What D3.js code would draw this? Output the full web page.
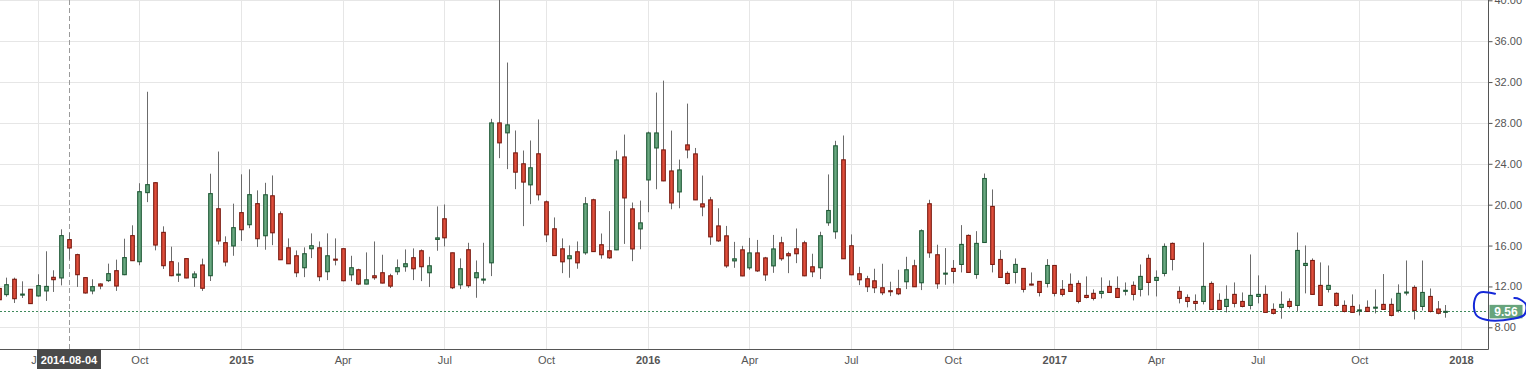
<!DOCTYPE html>
<html>
<head>
<meta charset="utf-8">
<script src="https://cdn.jsdelivr.net/npm/d3@7"></script>
<style>
  html, body { margin: 0; padding: 0; background: #ffffff; }
  svg { display: block; font-family: "Liberation Sans", Arial, sans-serif; }
</style>
</head>
<body>
<svg id="chart" width="1526" height="369"></svg>
<script>
// ---- DATA (weekly VIX candles, first week starting 2014-06-02) ----
const firstWeek = "2014-06-02";
const openVals = [
11.8,11.2,12.7,11.15,11.72,11.07,11.56,12.89,12.83,16.58,
15.11,12.86,11.56,12.24,12.57,13.54,13.15,16.97,14.42,21.18,
22.15,17.29,14.42,13.15,14.72,12.86,14.1,13.05,19.6,16.28,
15.96,19.22,18.04,20.1,16.96,20.87,19.11,15.78,15.0,13.83,
15.69,15.78,13.44,14.67,15.69,13.14,13.63,12.23,13.04,13.34,
13.04,13.44,13.93,14.81,15.49,13.34,16.6,18.62,15.29,12.16,
15.59,12.85,12.65,14.31,28.0,27.03,25.07,24.0,21.94,24.98,
20.28,17.64,15.68,14.71,15.39,15.29,20.48,16.08,15.49,15.58,
24.67,19.59,17.63,22.42,25.55,25.36,23.3,21.25,25.85,24.97,
20.08,20.47,17.92,16.95,14.5,15.58,13.82,15.28,14.79,14.01,
16.27,15.2,15.68,16.27,13.92,13.83,18.23,17.35,24.39,15.98,
13.24,12.75,12.55,11.87,11.58,11.77,12.46,14.02,12.36,20.09,
15.1,13.22,13.76,14.15,16.99,13.17,16.3,19.83,14.64,13.27,
13.37,13.76,12.23,12.49,12.29,14.05,11.71,12.2,12.29,11.12,
11.32,11.32,12.0,11.8,11.58,12.1,11.71,14.74,12.59,13.27,
16.21,11.51,10.92,10.53,10.53,12.29,10.63,10.04,11.22,10.53,
10.14,11.02,11.22,9.75,9.95,10.53,10.14,14.05,14.54,12.1,
11.71,11.32,10.14,10.04,9.62,9.95,9.9,10.24,10.24,9.65,
11.38,11.9,10.04,11.02,9.79,9.5
];
const highVals = [
12.2,12.86,12.86,12.5,11.75,13.19,15.44,13.58,17.59,17.26,
15.2,12.9,12.7,12.3,14.23,14.62,16.67,17.98,22.1,31.05,
22.2,17.88,15.89,14.36,14.75,13.48,14.72,23.03,25.2,16.9,
20.1,22.97,23.46,21.4,22.14,22.86,19.34,16.7,15.52,15.82,
17.19,16.4,17.19,16.7,15.7,15.0,13.73,15.33,16.4,15.1,
13.24,14.64,15.62,15.72,15.62,14.9,19.83,20.02,15.3,14.74,
16.27,14.54,16.27,28.4,53.3,33.91,27.26,25.3,26.28,28.34,
20.41,18.75,16.7,16.01,16.4,20.74,20.58,17.18,19.37,25.29,
26.86,20.21,20.4,27.15,30.97,32.14,27.25,24.41,29.89,25.55,
22.85,20.76,19.65,17.92,16.36,15.97,16.75,16.55,14.89,17.04,
16.86,15.39,17.67,16.47,15.2,17.35,22.96,26.25,26.77,17.09,
13.92,13.04,13.73,14.22,12.46,13.63,14.9,14.61,17.58,20.48,
16.08,15.75,14.58,18.0,17.09,17.41,23.05,21.49,15.55,13.47,
14.74,13.8,13.37,12.5,14.67,14.07,12.62,13.27,12.59,12.98,
11.71,12.88,12.59,12.98,12.39,12.49,14.15,15.13,13.57,16.21,
16.3,12.0,11.22,11.22,16.3,12.49,11.32,12.1,12.39,11.41,
15.13,13.08,12.1,10.34,11.51,10.83,17.28,16.01,14.74,14.35,
14.05,11.41,10.63,11.22,10.24,10.63,11.71,13.21,10.83,12.2,
14.54,12.1,14.54,11.8,10.57,10.18
];
const lowVals = [
10.5,11.0,10.38,10.87,10.3,11.0,10.58,11.46,12.1,14.65,
11.95,11.3,11.23,11.72,12.44,11.56,13.1,14.5,14.07,20.25,
15.53,13.71,13.0,12.44,12.8,11.95,11.56,12.53,16.1,13.97,
15.0,16.45,17.7,15.86,15.59,16.04,14.6,14.2,12.91,12.91,
14.77,12.52,12.62,14.06,12.5,12.52,12.13,12.2,12.65,12.3,
11.84,13.14,13.44,12.62,12.52,11.94,15.49,15.91,11.74,11.74,
11.87,10.89,12.26,13.01,24.55,23.48,21.52,17.9,20.05,20.41,
16.34,15.0,13.3,12.85,13.73,15.1,15.39,14.71,14.7,15.55,
16.16,14.47,15.64,19.26,21.51,22.3,19.55,19.65,24.54,20.45,
18.87,16.07,16.36,13.82,13.82,13.0,13.62,13.42,12.54,13.33,
14.51,13.3,14.28,13.0,12.91,12.72,17.93,16.66,14.7,13.1,
12.13,11.45,11.35,11.15,11.05,11.15,11.74,11.95,11.64,14.8,
11.77,12.16,12.29,13.37,13.35,12.75,16.25,13.37,12.85,12.2,
12.29,11.41,12.1,11.02,11.9,11.02,11.02,11.5,10.34,10.83,
10.63,10.83,11.4,10.9,11.12,10.63,11.02,11.12,11.02,12.98,
13.57,10.34,9.95,9.65,10.24,9.7,9.7,9.46,9.95,9.95,
9.75,10.34,9.45,9.26,8.84,9.85,9.55,11.32,11.2,10.1,
11.41,10.04,9.46,9.45,9.16,9.5,9.36,9.7,9.07,9.46,
11.12,8.77,9.65,9.46,9.27,8.94
];
const closeVals = [
10.7,12.17,10.8,11.25,10.32,12.08,12.0,12.66,16.97,15.76,
13.15,11.36,11.98,12.04,13.25,12.04,14.82,14.52,21.27,21.96,
16.05,14.03,13.05,13.2,12.83,13.22,11.82,21.08,16.45,14.39,
17.75,17.55,20.98,16.67,20.97,17.25,14.61,14.22,13.34,15.2,
15.98,12.95,15.0,14.6,12.56,13.83,12.23,12.65,12.85,12.33,
12.03,13.83,14.22,13.73,13.93,14.02,16.75,16.76,11.87,13.73,
12.07,13.34,12.72,28.0,26.05,27.81,23.18,22.21,23.61,20.97,
17.05,15.02,14.41,15.0,14.31,20.09,15.41,15.1,14.8,24.38,
20.66,15.67,18.22,27.02,27.02,22.33,20.17,23.4,25.36,20.47,
19.78,16.85,16.46,14.01,14.7,13.03,15.28,13.52,13.13,15.67,
14.71,15.0,15.2,13.04,13.43,16.96,19.43,25.76,14.71,13.14,
12.65,11.97,11.87,11.38,11.48,11.28,13.63,11.97,17.45,15.29,
12.26,13.3,13.47,16.11,13.37,16.21,22.56,14.15,12.88,12.29,
14.15,11.71,12.16,11.41,14.05,11.32,11.22,11.51,10.53,10.92,
10.83,11.51,11.41,10.92,11.62,11.22,12.98,12.39,12.88,15.91,
14.64,10.83,10.53,10.34,12.0,9.75,9.75,10.73,10.34,10.04,
11.12,11.22,9.46,9.36,10.24,10.04,15.52,14.25,11.22,10.14,
12.1,10.14,9.55,9.46,9.7,9.55,9.97,9.75,9.16,11.32,
11.45,9.65,11.41,9.55,9.37,9.56
];
const yTickValues = [8, 12, 16, 20, 24, 28, 32, 36, 40];
const xTickDates = ["2014-07-07","2014-10-06","2015-01-05","2015-04-06","2015-07-06","2015-10-05",
  "2016-01-04","2016-04-04","2016-07-04","2016-10-03","2017-01-02","2017-04-03","2017-07-03",
  "2017-10-02","2018-01-01"];
const xTickLabels = ["Jul","Oct","2015","Apr","Jul","Oct","2016","Apr","Jul","Oct","2017","Apr","Jul","Oct","2018"];
const crosshairDate = "2014-08-04";
const lastPrice = 9.56;

// ---- LAYOUT ----
const W = 1526, H = 369;
const plotRight = 1488, plotBottom = 349;
const parse = d3.utcParse("%Y-%m-%d");
const start = parse(firstWeek);
const data = openVals.map((o, i) => ({
  date: d3.utcWeek.offset(start, i),
  o, h: highVals[i], l: lowVals[i], c: closeVals[i]
}));

const x = d3.scaleUtc()
  .domain([parse("2014-08-04"), parse("2018-01-01")])
  .range([69, 1461]);
const y = d3.scaleLinear().domain([8, 40]).range([327.3, 0.3]);

const svg = d3.select("#chart");
svg.append("rect").attr("width", W).attr("height", H).attr("fill", "#fff");

svg.append("defs").append("clipPath").attr("id", "plotClip")
  .append("rect").attr("x", 0).attr("y", 0).attr("width", plotRight).attr("height", plotBottom);

const crisp = v => Math.round(v) + 0.5;

// grid
const grid = svg.append("g").attr("stroke", "#e6e6e6").attr("stroke-width", 1);
grid.selectAll("line.h").data(yTickValues).join("line")
  .attr("x1", 0).attr("x2", plotRight)
  .attr("y1", d => crisp(y(d))).attr("y2", d => crisp(y(d)));
grid.selectAll("line.v").data(xTickDates).join("line")
  .attr("x1", d => crisp(x(parse(d)))).attr("x2", d => crisp(x(parse(d))))
  .attr("y1", 0).attr("y2", plotBottom);

// last price dotted line
svg.append("line")
  .attr("x1", 0).attr("x2", plotRight)
  .attr("y1", crisp(y(lastPrice))).attr("y2", crisp(y(lastPrice)))
  .attr("stroke", "#3f8a5c").attr("stroke-width", 1).attr("stroke-dasharray", "2,2");

// crosshair vertical
svg.append("line")
  .attr("x1", crisp(x(parse(crosshairDate)))).attr("x2", crisp(x(parse(crosshairDate))))
  .attr("y1", 0).attr("y2", plotBottom)
  .attr("stroke", "#9a9a9a").attr("stroke-width", 1).attr("stroke-dasharray", "5,3");

// candles
const plot = svg.append("g").attr("clip-path", "url(#plotClip)");
const candles = plot.selectAll("g.candle").data(data).join("g").attr("class", "candle");
candles.append("line")
  .attr("x1", d => crisp(x(d.date))).attr("x2", d => crisp(x(d.date)))
  .attr("y1", d => y(d.h)).attr("y2", d => y(d.l))
  .attr("stroke", "#6b6b6b").attr("stroke-width", 1);
const bw = 3.6;
candles.append("rect")
  .attr("x", d => crisp(x(d.date)) - bw / 2)
  .attr("width", bw)
  .attr("y", d => y(Math.max(d.o, d.c)))
  .attr("height", d => Math.max(1, Math.abs(y(d.o) - y(d.c))))
  .attr("fill", d => d.c >= d.o ? "#6aa881" : "#df4e3b")
  .attr("stroke", d => d.c >= d.o ? "#1f5a36" : "#7a1a10")
  .attr("stroke-width", 1.1);

// axes lines
svg.append("line").attr("x1", crisp(plotRight)).attr("x2", crisp(plotRight))
  .attr("y1", 0).attr("y2", plotBottom + 0.5).attr("stroke", "#555").attr("stroke-width", 1);
svg.append("line").attr("x1", 0).attr("x2", plotRight + 0.5)
  .attr("y1", crisp(plotBottom)).attr("y2", crisp(plotBottom)).attr("stroke", "#555").attr("stroke-width", 1);

// y axis
const yAxis = d3.axisRight(y).tickValues(yTickValues).tickFormat(d3.format(".2f"))
  .tickSize(4).tickSizeOuter(0).tickPadding(2);
const gy = svg.append("g").attr("transform", `translate(${crisp(plotRight)},0)`).call(yAxis);
gy.select(".domain").remove();
gy.selectAll(".tick line").attr("stroke", "#555");
gy.selectAll(".tick text").attr("fill", "#555").attr("font-size", 11)
  .attr("font-family", "Liberation Sans, Arial, sans-serif");

// x axis
const xAxis = d3.axisBottom(x).tickValues(xTickDates.map(parse))
  .tickFormat((d, i) => xTickLabels[i]).tickSize(0).tickPadding(7);
const gx = svg.append("g").attr("transform", `translate(0,${plotBottom})`).call(xAxis);
gx.select(".domain").remove();
gx.selectAll(".tick text").attr("fill", "#555").attr("font-size", 11)
  .attr("font-family", "Liberation Sans, Arial, sans-serif")
  .attr("font-weight", (d, i) => /^\d{4}$/.test(xTickLabels[i]) ? "bold" : "normal");

// crosshair date label
const cx0 = x(parse(crosshairDate));
svg.append("rect").attr("x", cx0 - 32).attr("y", plotBottom).attr("width", 64).attr("height", H - plotBottom)
  .attr("fill", "#4a4a4a");
svg.append("text").attr("x", cx0).attr("y", 364).attr("text-anchor", "middle")
  .attr("fill", "#fff").attr("font-size", 11).attr("font-weight", "bold")
  .text(crosshairDate);

// last price label
const py = y(lastPrice);
svg.append("rect").attr("x", plotRight + 1.5).attr("y", py - 6.5).attr("width", 33).attr("height", 13.5)
  .attr("fill", "#67a47c");
svg.append("text").attr("x", plotRight + 18).attr("y", py + 4.5).attr("text-anchor", "middle")
  .attr("fill", "#fff").attr("font-size", 12).attr("font-weight", "bold")
  .text(d3.format(".2f")(lastPrice));

// hand-drawn blue circle annotation around the price label (offsets from label anchor)
const ax = plotRight, ay = py;
const loopOffsets = [[7,-17.6],[-8.7,-18.6],[-13.7,-10],[-12,3.4],[-2,8.4],[24.7,7.4],[36.3,3.4],[38,-6.6],[31.3,-12.3],[26.3,-13.3]];
svg.append("path")
  .attr("d", d3.line().curve(d3.curveCatmullRom.alpha(0.5))(loopOffsets.map(p => [ax + p[0], ay + p[1]])))
  .attr("fill", "none").attr("stroke", "#1428d8").attr("stroke-width", 2).attr("stroke-linecap", "round");
</script>
</body>
</html>
